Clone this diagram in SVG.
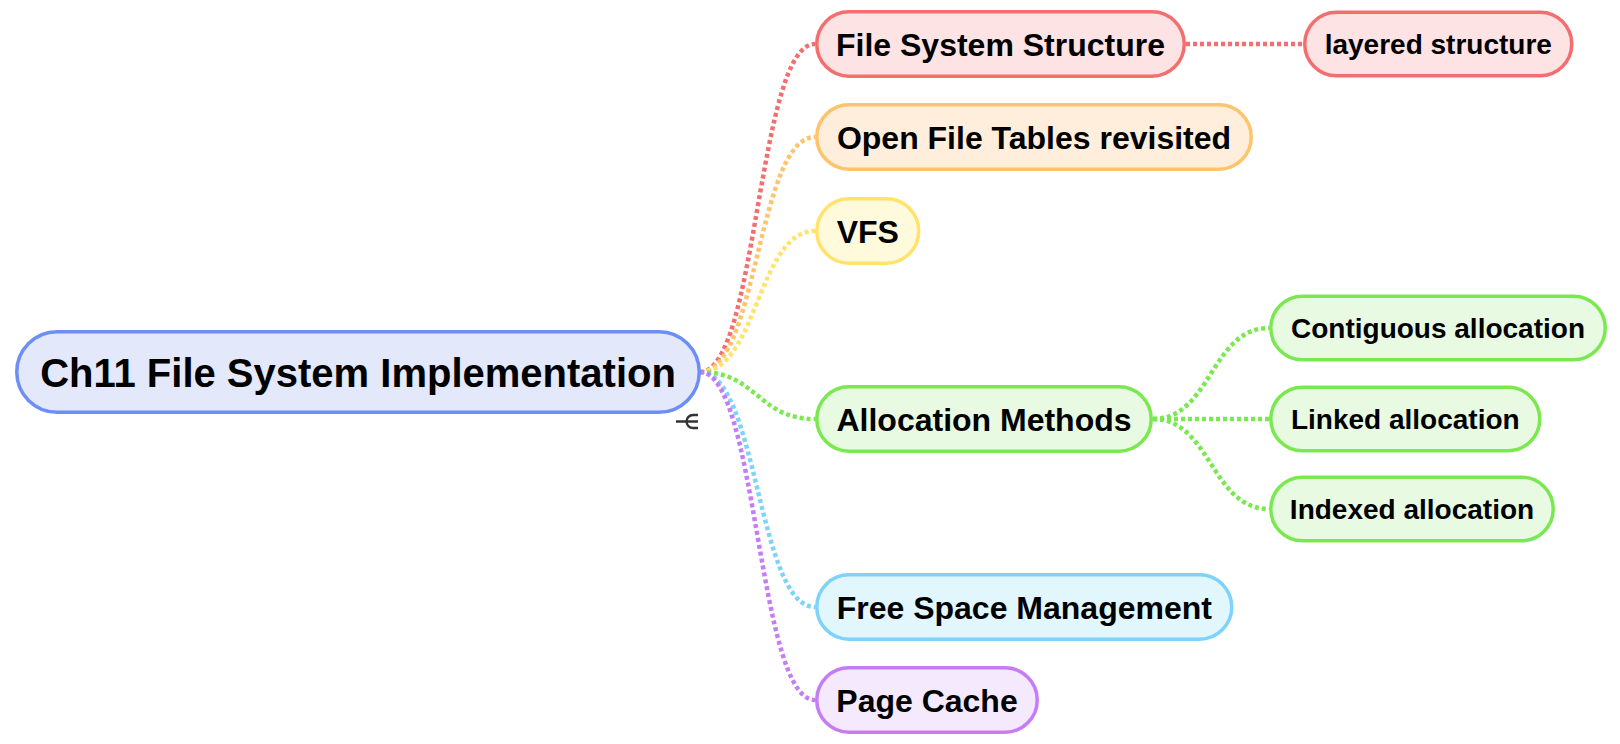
<svg xmlns="http://www.w3.org/2000/svg" width="1620" height="744" viewBox="0 0 1620 744">
<style>
  .t { font-family: "Liberation Sans", Arial, sans-serif; font-weight: bold; fill: #000; text-anchor: middle; }
  .root { font-size: 40px; }
  .c1 { font-size: 32px; }
  .c2 { font-size: 28px; }
  .n { stroke-width: 3.5; }
  .e { fill: none; stroke-width: 4.5; stroke-dasharray: 4 3; }
  .red { fill: #FDE3E3; stroke: #F36E6E; }
  .org { fill: #FFEEDC; stroke: #FFC36B; }
  .yel { fill: #FFFADC; stroke: #FFE36B; }
  .grn { fill: #E8FAE1; stroke: #79E94F; }
  .blu { fill: #E1F6FD; stroke: #7DD3FB; }
  .pur { fill: #F4E9FD; stroke: #C67CF5; }
  .rt { fill: #E3E8FB; stroke: #6E8EF7; }
</style>
<rect width="1620" height="744" fill="#ffffff"/>
<g id="connectors">
  <path class="e" stroke="#F36E6E" d="M700 372 C757.5 372 757.5 44 815 44"/>
  <path class="e" stroke="#FFC36B" d="M700 372 C757.5 372 757.5 137 815 137"/>
  <path class="e" stroke="#FFE36B" d="M700 372 C757.5 372 757.5 231 815 231"/>
  <path class="e" stroke="#79E94F" d="M700 372 C757.5 372 757.5 419 815 419"/>
  <path class="e" stroke="#7DD3FB" d="M700 372 C757.5 372 757.5 607 815 607"/>
  <path class="e" stroke="#C67CF5" d="M700 372 C757.5 372 757.5 700 815 700"/>
  <path class="e" stroke="#F36E6E" d="M1186 44 L1303 44"/>
  <path class="e" stroke="#79E94F" d="M1153 419 C1211 419 1211 328 1269 328"/>
  <path class="e" stroke="#79E94F" d="M1153 419 L1269 419"/>
  <path class="e" stroke="#79E94F" d="M1153 419 C1211 419 1211 509 1269 509"/>
</g>
<g id="root">
  <rect class="n rt" x="16.75" y="331.75" width="682.5" height="80.5" rx="40.25"/>
  <text class="t root" x="358" y="387">Ch11 File System Implementation</text>
  <path d="M676 421.5 H698 M698 415 H693 A6.5 6.5 0 0 0 693 428 H698" fill="none" stroke="#333333" stroke-width="2.4"/>
</g>
<g id="fs-structure">
  <rect class="n red" x="816.75" y="11.75" width="367.5" height="64.5" rx="32.25"/>
  <text class="t c1" x="1000.5" y="55.5">File System Structure</text>
</g>
<g id="open-file-tables">
  <rect class="n org" x="816.75" y="104.75" width="434.5" height="64.5" rx="32.25"/>
  <text class="t c1" x="1034" y="148.5">Open File Tables revisited</text>
</g>
<g id="vfs">
  <rect class="n yel" x="816.75" y="198.75" width="102" height="64.5" rx="32.25"/>
  <text class="t c1" x="867.8" y="242.5">VFS</text>
</g>
<g id="allocation-methods">
  <rect class="n grn" x="816.75" y="386.75" width="334.5" height="64.5" rx="32.25"/>
  <text class="t c1" x="984" y="430.5">Allocation Methods</text>
</g>
<g id="free-space">
  <rect class="n blu" x="816.75" y="574.75" width="415" height="64.5" rx="32.25"/>
  <text class="t c1" x="1024.3" y="618.5">Free Space Management</text>
</g>
<g id="page-cache">
  <rect class="n pur" x="816.75" y="667.75" width="220.5" height="64.5" rx="32.25"/>
  <text class="t c1" x="927" y="711.5">Page Cache</text>
</g>
<g id="layered-structure">
  <rect class="n red" x="1304.75" y="12.25" width="267" height="63.5" rx="31.75"/>
  <text class="t c2" x="1438.3" y="54">layered structure</text>
</g>
<g id="contiguous">
  <rect class="n grn" x="1270.75" y="296.25" width="334.5" height="63.5" rx="31.75"/>
  <text class="t c2" x="1438" y="338">Contiguous allocation</text>
</g>
<g id="linked">
  <rect class="n grn" x="1270.75" y="387.25" width="269" height="63.5" rx="31.75"/>
  <text class="t c2" x="1405.3" y="429">Linked allocation</text>
</g>
<g id="indexed">
  <rect class="n grn" x="1270.75" y="477.25" width="282.5" height="63.5" rx="31.75"/>
  <text class="t c2" x="1412" y="519">Indexed allocation</text>
</g>
</svg>
